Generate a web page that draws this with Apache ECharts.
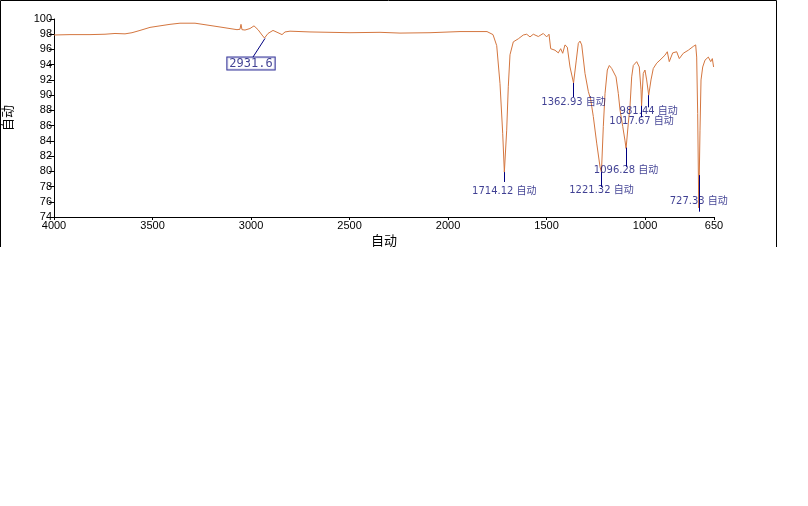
<!DOCTYPE html>
<html>
<head>
<meta charset="utf-8">
<script src="https://cdn.jsdelivr.net/npm/echarts@6/dist/echarts.min.js"></script>
<style>
  html, body { margin: 0; padding: 0; background: #fff; }
  #chart { width: 808px; height: 506px; }
</style>
</head>
<body>
<div id="chart"></div>
<script>
// 光谱数据 (波数 / 透过率)
var waveNumbers = [
  4000, 3918.8, 3817.3, 3741.1, 3690.4, 3639.6, 3604.1, 3563.5, 3512.7, 3462.0,
  3411.2, 3360.5, 3284.3, 3233.6, 3157.5, 3071.2, 3056.0, 3050.9, 3045.8, 3030.5,
  3005.1, 2984.8, 2964.5, 2944.2, 2931.6, 2913.8, 2888.4, 2863.0, 2842.7, 2827.5,
  2802.1, 2700.6, 2497.6, 2345.3, 2243.8, 2091.5, 1939.2, 1802.2, 1771.7, 1752.9,
  1736.2, 1722.5, 1714.12, 1702.2, 1694.1, 1685.5, 1668.7, 1643.3, 1617.9, 1600.7,
  1584.0, 1567.2, 1541.8, 1516.5, 1499.2, 1487.5, 1478.9, 1457.1, 1440.3, 1428.2,
  1418.0, 1406.3, 1394.6, 1380.9, 1362.93, 1348.9, 1338.7, 1330.1, 1321.5, 1304.7,
  1288.0, 1275.8, 1262.6, 1245.4, 1228.6, 1221.32, 1211.8, 1203.2, 1191.5, 1181.3,
  1169.1, 1161.0, 1147.3, 1135.6, 1127.0, 1113.3, 1101.6, 1096.28, 1085.0, 1076.4,
  1067.8, 1059.7, 1042.4, 1029.2, 1020.5, 1017.67, 1009.0, 1000.4, 991.8, 981.44,
  969.8, 958.2, 940.9, 924.2, 898.8, 887.1, 877.0, 859.7, 839.4, 826.2,
  805.9, 780.5, 755.2, 743.0, 737.9, 732.8, 727.33, 721.0, 715.9, 707.3,
  695.6, 678.8, 666.6, 658.5, 652
];
var transmittance = [
  97.9, 97.95, 97.95, 98.0, 98.1, 98.05, 98.2, 98.5, 98.9, 99.1,
  99.3, 99.45, 99.45, 99.25, 98.95, 98.6, 98.65, 99.3, 98.6, 98.55,
  98.75, 99.1, 98.6, 97.9, 97.5, 98.1, 98.5, 98.2, 97.95, 98.3,
  98.4, 98.3, 98.2, 98.25, 98.15, 98.2, 98.35, 98.35, 97.95, 96.5,
  91.5, 85.0, 79.9, 85.4, 91.1, 95.3, 97.0, 97.4, 97.9, 98.0,
  97.65, 98.0, 97.7, 98.1, 97.65, 98.0, 96.1, 95.9, 95.55, 96.1,
  95.5, 96.6, 96.3, 93.7, 91.6, 94.6, 96.8, 97.1, 96.6, 92.85,
  90.5, 89.4, 87.2, 83.7, 80.6, 79.9, 85.9, 90.2, 93.3, 93.9,
  93.5, 93.7, 92.4, 90.2, 88.05, 85.9, 84.0, 83.0, 86.3, 88.5,
  92.4, 93.9, 94.4, 93.7, 90.7, 88.6, 92.85, 93.3, 92.0, 90.0,
  92.0, 93.5, 94.2, 94.6, 95.25, 95.7, 94.4, 95.55, 95.7, 94.8,
  95.5, 95.9, 96.4, 96.6, 95.0, 87.6, 75.2, 85.4, 92.0, 93.7,
  94.6, 95.0, 94.4, 94.8, 93.7
];

// 峰标注
var peakWave = [1714.12, 1362.93, 1221.32, 1096.28, 1017.67, 981.44, 727.33];
var peakLineTop = [79.9, 91.6, 79.9, 83.1, 88.6, 90.0, 79.5];
var peakLineEnd = [78.6, 89.75, 77.95, 80.6, 87.1, 88.4, 74.7];
var peakLabelY = [77.3, 89.1, 77.45, 80.1, 86.6, 87.9, 76.1];

// 2931.6 方框标注
var boxPeak = [2929, 97.45];
var boxLineEnd = [2990, 95.0];
var boxLabel = [3000, 94.15];

var xTicks = [4000, 3500, 3000, 2500, 2000, 1500, 1000, 650];

var curve = waveNumbers.map(function (w, i) {
  return [w, transmittance[i]];
});

var markLines = peakWave.map(function (w, i) {
  return [{ coord: [w, peakLineTop[i]] }, { coord: [w, peakLineEnd[i]] }];
});
markLines.push([{ coord: boxPeak }, { coord: boxLineEnd }]);

var peakLabels = peakWave.map(function (w, i) {
  return { value: [w, peakLabelY[i]], name: w.toFixed(2) + " 自动" };
});

var myChart = echarts.init(document.getElementById("chart"));
myChart.setOption({
  animation: false,
  backgroundColor: "#fff",
  grid: { left: 54, right: 94, top: 19, bottom: 289, outerBoundsMode: "none", containLabel: false },
  graphic: [
    {
      type: "polyline",
      shape: { points: [[0.5, 247], [0.5, 0.5], [776.5, 0.5], [776.5, 247]] },
      style: { stroke: "#000", lineWidth: 1, fill: null }
    }
  ],
  xAxis: {
    type: "value",
    inverse: true,
    min: 650,
    max: 4000,
    name: "自动",
    nameLocation: "middle",
    nameGap: 17,
    nameTextStyle: { color: "#000", fontSize: 13, fontFamily: "Noto Sans CJK SC" },
    axisLine: { lineStyle: { color: "#000", width: 1 } },
    axisTick: { show: true, length: 3, customValues: xTicks, lineStyle: { color: "#000" } },
    axisLabel: {
      customValues: xTicks,
      formatter: function (v) { return String(v); },
      color: "#000",
      fontSize: 11,
      fontFamily: "Liberation Sans",
      margin: 3
    },
    splitLine: { show: false }
  },
  yAxis: {
    type: "value",
    min: 74,
    max: 100,
    interval: 2,
    name: "自动",
    nameLocation: "middle",
    nameGap: 40,
    nameRotate: 90,
    nameTextStyle: { color: "#000", fontSize: 13, fontFamily: "Noto Sans CJK SC" },
    axisLine: { show: true, lineStyle: { color: "#000", width: 1 } },
    axisTick: { show: true, length: 5, lineStyle: { color: "#000" } },
    axisLabel: { color: "#000", fontSize: 11, fontFamily: "Liberation Sans", margin: 2 },
    splitLine: { show: false }
  },
  series: [
    {
      name: "spectrum",
      type: "line",
      data: curve,
      showSymbol: false,
      smooth: false,
      lineStyle: { color: "#d4763f", width: 1 },
      markLine: {
        silent: true,
        symbol: "none",
        label: { show: false },
        lineStyle: { color: "#000080", width: 1, type: "solid" },
        data: markLines
      },
      z: 2
    },
    {
      name: "peaks",
      type: "scatter",
      data: peakLabels,
      symbolSize: 0,
      label: {
        show: true,
        position: "inside",
        formatter: "{b}",
        color: "#101078",
        fontSize: 10,
        fontFamily: "DejaVu Sans, Noto Sans CJK SC"
      },
      z: 3
    },
    {
      name: "box",
      type: "scatter",
      data: [{ value: boxLabel, name: "2931.6" }],
      symbolSize: 0,
      label: {
        show: true,
        position: "inside",
        formatter: "{b}",
        color: "#101078",
        fontSize: 12,
        fontFamily: "DejaVu Sans Mono",
        backgroundColor: "#fff",
        borderColor: "#000080",
        borderWidth: 1,
        padding: [0, 2, 0, 2]
      },
      z: 4
    }
  ]
});
</script>
</body>
</html>
